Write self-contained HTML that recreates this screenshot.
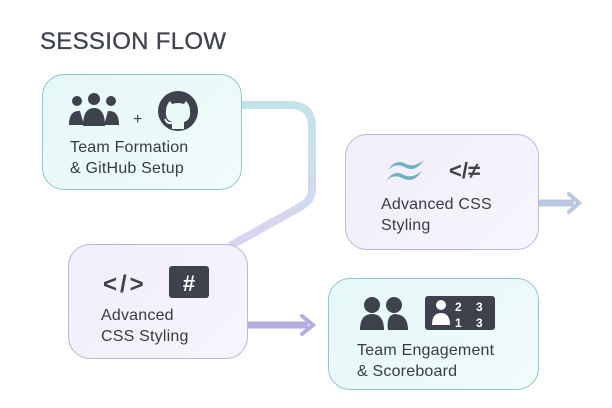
<!DOCTYPE html>
<html><head><style>
body{margin:0;width:612px;height:408px;background:#fff;font-family:"Liberation Sans",sans-serif;position:relative;overflow:hidden}
.t{position:absolute;left:40px;top:28px;font-size:24px;color:#3f434c;letter-spacing:0.3px;-webkit-text-stroke:0.3px #3f434c}
.b{position:absolute;border-radius:22px;box-sizing:border-box}
.teal{background:linear-gradient(135deg,#e6f7f7,#f1fbfb);border:1.5px solid #8cc9cb}
.lav{background:linear-gradient(135deg,#f1edfa,#f8f5fd);border:1.5px solid #bdb5df}
.x{position:absolute;font-size:16px;line-height:21px;color:#363b46;letter-spacing:0.2px}
</style></head><body>
<div class="t">SESSION FLOW</div>
<svg width="612" height="408" style="position:absolute;left:0;top:0">
<defs><linearGradient id="g" x1="0" y1="0" x2="0" y2="1"><stop offset="0" stop-color="#c3e3ea"/><stop offset="1" stop-color="#d9d4f0"/></linearGradient></defs>
<path d="M240 105 H290 Q312 105 312 127 V190 Q312 200 300 207 L230 246" fill="none" stroke="url(#g)" stroke-width="8"/>
<path d="M248 325 H308" stroke="#b3aee0" stroke-width="7"/>
<path d="M302 316 L313 325 L302 334" fill="none" stroke="#b3aee0" stroke-width="4" stroke-linecap="round"/>
<path d="M538 203 H574" stroke="#b8c8e2" stroke-width="7"/>
<path d="M569 194 L579 203 L569 212" fill="none" stroke="#b8c8e2" stroke-width="4" stroke-linecap="round"/>
</svg>
<div class="b teal" style="left:42px;top:74px;width:200px;height:116px"></div>
<div class="b lav" style="left:68px;top:244px;width:180px;height:115px"></div>
<div class="b lav" style="left:345px;top:134px;width:194px;height:116px"></div>
<div class="b teal" style="left:328px;top:278px;width:211px;height:112px"></div>
<svg width="612" height="408" style="position:absolute;left:0;top:0" fill="#3d424d">
<circle cx="77" cy="101" r="5"/><circle cx="94" cy="99" r="6"/><circle cx="111" cy="101" r="5"/>
<path d="M69 125 Q69 110 80 111 L84 125Z"/><path d="M83 126 Q83 108 94 108 Q105 108 105 126Z"/><path d="M104 125 L108 111 Q119 110 119 125Z"/>
<text x="133" y="124" font-size="16" font-family="Liberation Sans">+</text>
<circle cx="178" cy="111" r="20"/>
<path d="M172 129 V122 Q165 120 166 111 Q166 105 170 101 L172 104 Q178 102 184 104 L186 101 Q190 105 190 111 Q191 120 184 122 V129Z" fill="#eaf8f8"/>
<path d="M172 123 Q167 124 165 119" fill="none" stroke="#eaf8f8" stroke-width="2"/>
<text x="103" y="292" font-size="24" font-weight="bold" letter-spacing="3" font-family="Liberation Sans">&lt;/&gt;</text>
<rect x="169" y="266" width="40" height="32" rx="3"/>
<text x="189" y="291" font-size="22" font-weight="bold" text-anchor="middle" fill="#fff" font-family="Liberation Sans">#</text>
<path d="M388 170 Q396 158 406 164 Q414 168 424 160 Q416 172 406 168 Q396 162 388 170Z" fill="#6fb3c1"/>
<path d="M386 181 Q394 169 404 175 Q412 179 422 171 Q414 183 404 179 Q394 173 386 181Z" fill="#6fb3c1"/>
<text x="449" y="178" font-size="22" font-weight="bold" font-family="Liberation Sans">&lt;/≠</text>
<circle cx="372" cy="305" r="8"/><circle cx="394" cy="305" r="8"/>
<path d="M360 330 Q360 314 372 314 Q384 314 384 330Z"/><path d="M388 330 Q386 316 394 314 Q408 314 408 330Z"/>
<rect x="425" y="296" width="70" height="34" rx="3"/>
<circle cx="441" cy="305" r="5" fill="#fff"/><path d="M432 325 Q432 313 441 313 Q450 313 450 325Z" fill="#fff"/>
<text x="455" y="311" font-size="12" font-weight="bold" fill="#fff" font-family="Liberation Sans">2</text>
<text x="476" y="311" font-size="12" font-weight="bold" fill="#fff" font-family="Liberation Sans">3</text>
<text x="455" y="327" font-size="12" font-weight="bold" fill="#fff" font-family="Liberation Sans">1</text>
<text x="476" y="327" font-size="12" font-weight="bold" fill="#fff" font-family="Liberation Sans">3</text>
</svg>
<div class="x" style="left:70px;top:137px">Team Formation<br>&amp; GitHub Setup</div>
<div class="x" style="left:101px;top:305px">Advanced<br>CSS Styling</div>
<div class="x" style="left:381px;top:194px">Advanced CSS<br>Styling</div>
<div class="x" style="left:357px;top:340px">Team Engagement<br>&amp; Scoreboard</div>
</body></html>
